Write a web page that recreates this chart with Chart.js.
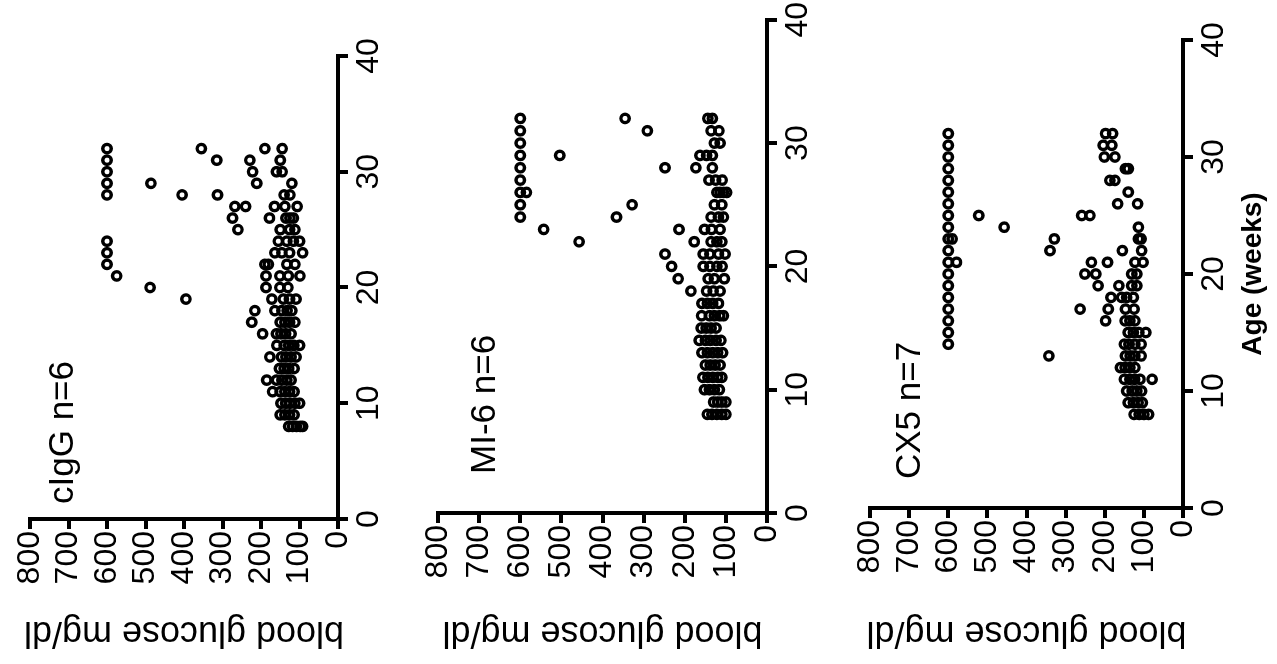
<!DOCTYPE html>
<html lang="en">
<head>
  <meta charset="UTF-8" />
  <title>Blood glucose by age</title>
  <script src="https://cdn.jsdelivr.net/npm/chart.js"></script>
  <style>
    body {
      margin: 0;
      background: #fff;
      overflow: hidden;
    }
    /* figure is laid out upright, then turned a quarter turn to the left */
    #fig {
      position: absolute;
      left: 0;
      top: 0;
      width: 664px;
      height: 1277px;
      transform-origin: 0 0;
      transform: translateY(664px) rotate(-90deg);
    }
    #fig canvas {
      position: absolute;
      left: 0;
    }
  </style>
</head>
<body>
  <div id="fig">
    <canvas id="c1" width="664" height="410" style="top:0"></canvas>
    <canvas id="c2" width="664" height="420" style="top:410px"></canvas>
    <canvas id="c3" width="664" height="447" style="top:830px"></canvas>
  </div>

  <script>
    // age in weeks, one row of readings per week
    const weeks = [8, 9, 10, 11, 12, 13, 14, 15, 16, 17, 18, 19, 20,
                   21, 22, 23, 24, 25, 26, 27, 28, 29, 30, 31, 32];

    const cIgG = [
      [128, 118, 108, 98, 92],
      [150, 138, 126, 114],
      [148, 136, 125, 112, 100],
      [170, 150, 138, 126, 114],
      [185, 160, 146, 133, 122],
      [152, 140, 128, 114],
      [177, 147, 135, 122, 109],
      [159, 140, 128, 115, 100],
      [196, 160, 148, 136, 122],
      [224, 150, 138, 126, 112],
      [216, 164, 146, 132, 120],
      [395, 172, 142, 126, 109],
      [488, 187, 151, 130],
      [575, 187, 151, 129, 99],
      [600, 190, 181, 133, 112],
      [600, 164, 146, 126, 92],
      [600, 155, 133, 116, 100],
      [260, 150, 126, 112],
      [274, 178, 135, 125, 116],
      [268, 240, 165, 138, 106],
      [600, 405, 313, 140, 125],
      [600, 486, 211, 120],
      [600, 222, 160, 145],
      [600, 315, 229, 150],
      [600, 355, 190, 145]
    ];

    const mi6 = [
      [145, 134, 122, 110, 100],
      [130, 120, 110, 100],
      [152, 140, 128, 116],
      [156, 144, 132, 120, 110],
      [150, 138, 126, 114],
      [158, 145, 132, 120, 108],
      [165, 150, 138, 124, 112],
      [160, 148, 136, 124],
      [159, 140, 128, 115, 106],
      [158, 145, 132, 118],
      [185, 147, 131, 114],
      [216, 143, 128, 104],
      [232, 155, 139, 122, 109],
      [248, 155, 139, 118, 102],
      [457, 177, 136, 122, 110],
      [543, 214, 152, 135, 114],
      [600, 366, 136, 118, 106],
      [600, 328, 128, 110],
      [600, 585, 122, 114, 106, 98],
      [600, 141, 125, 109],
      [600, 248, 173, 133],
      [600, 504, 163, 147, 133],
      [600, 128, 114],
      [600, 291, 136, 117],
      [600, 345, 144, 133]
    ];

    const cx5 = [
      [125, 112, 100, 88],
      [140, 127, 115, 104],
      [144, 130, 118, 106],
      [150, 136, 124, 110, 79],
      [160, 148, 136, 123],
      [343, 147, 135, 123, 107],
      [600, 150, 138, 123, 107],
      [600, 140, 127, 113, 95],
      [600, 198, 148, 136, 123],
      [600, 263, 191, 147, 125],
      [600, 184, 157, 144, 127],
      [600, 217, 164, 131, 118],
      [600, 251, 223, 131, 118],
      [600, 579, 234, 193, 123, 102],
      [600, 340, 155, 106],
      [600, 590, 329, 114, 107],
      [600, 457, 114],
      [600, 522, 259, 238],
      [600, 167, 116],
      [600, 140],
      [600, 187, 174],
      [600, 147, 140],
      [600, 201, 174],
      [600, 204, 182],
      [600, 198, 180]
    ];

    const ageTicks = [0, 10, 20, 30, 40];
    const glucoseTicks = [0, 100, 200, 300, 400, 500, 600, 700, 800];

    const FONT = "'Liberation Sans', Arial, Helvetica, sans-serif";

    function toPoints(rows) {
      const pts = [];
      rows.forEach((vals, i) => vals.forEach(v => pts.push({ x: weeks[i], y: v })));
      return pts;
    }

    // group name written inside the plot, top left
    const groupLabel = {
      id: 'groupLabel',
      afterDraw(chart, args, opts) {
        const { ctx, chartArea } = chart;
        ctx.save();
        ctx.font = '35px ' + FONT;
        ctx.fillStyle = '#000';
        ctx.textBaseline = 'alphabetic';
        ctx.fillText(opts.text, chartArea.left + opts.dx, opts.y);
        ctx.restore();
      }
    };

    function panel(id, rows, box) {
      const canvas = document.getElementById(id);
      const H = canvas.height;
      const W = canvas.width;
      return new Chart(canvas, {
        type: 'scatter',
        data: {
          datasets: [{
            data: toPoints(rows),
            pointStyle: 'circle',
            pointRadius: 4.2,
            pointHoverRadius: 4.2,
            pointBorderWidth: 3.4,
            pointBorderColor: '#000',
            pointBackgroundColor: 'rgba(0,0,0,0)'
          }]
        },
        options: {
          responsive: false,
          animation: false,
          devicePixelRatio: 1,
          layout: { padding: { top: box.top, right: W - box.right, left: 0, bottom: 0 } },
          plugins: {
            legend: { display: false },
            tooltip: { enabled: false },
            groupLabel: { text: box.label, dx: box.dx, y: box.labelY }
          },
          scales: {
            x: {
              type: 'linear',
              min: 0,
              max: 40,
              afterBuildTicks: s => { s.ticks = ageTicks.map(v => ({ value: v })); },
              ticks: { color: '#000', font: { family: FONT, size: 32 }, padding: 2, maxRotation: 0, autoSkip: false },
              grid: { drawOnChartArea: false, tickLength: 10, lineWidth: 4, color: '#000' },
              border: { display: true, width: 4, color: '#000' },
              title: {
                display: !!box.xTitle,
                text: box.xTitle || '',
                color: '#000',
                font: { family: FONT, size: 28, weight: 'bold' },
                padding: { top: 0, bottom: 7 }
              },
              afterFit: s => { s.height = H - box.bottom; }
            },
            y: {
              type: 'linear',
              min: 0,
              max: 800,
              afterBuildTicks: s => { s.ticks = glucoseTicks.map(v => ({ value: v })); },
              ticks: { color: '#000', font: { family: FONT, size: 32 }, padding: 2, autoSkip: false },
              grid: { drawOnChartArea: false, tickLength: 10, lineWidth: 4, color: '#000' },
              border: { display: true, width: 4, color: '#000' },
              title: {
                display: true,
                text: 'blood glucose mg/dl',
                color: '#000',
                font: { family: FONT, size: 36 },
                padding: { top: 10, bottom: 0 }
              },
              afterFit: s => { s.width = box.left; }
            }
          }
        },
        plugins: [groupLabel]
      });
    }

    panel('c1', cIgG, { left: 145, right: 608, top: 30, bottom: 338, label: 'cIgG n=6', dx: 15, labelY: 73 });
    panel('c2', mi6, { left: 151, right: 646, top: 28, bottom: 357, label: 'MI-6 n=6', dx: 39, labelY: 85 });
    panel('c3', cx5, { left: 156, right: 624, top: 40, bottom: 353, label: 'CX5 n=7', dx: 29, labelY: 90, xTitle: 'Age (weeks)' });
  </script>
</body>
</html>
